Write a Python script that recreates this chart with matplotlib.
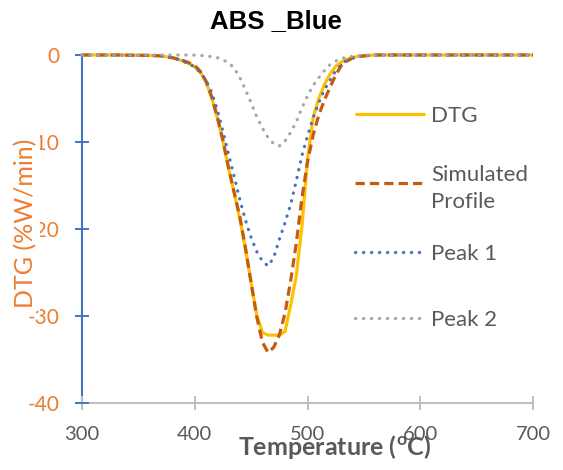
import matplotlib
matplotlib.use("Agg")
import matplotlib.pyplot as plt
from matplotlib.lines import Line2D

plt.rcParams["font.family"] = ["Lato", "DejaVu Sans"]
plt.rcParams["mathtext.fontset"] = "custom"
plt.rcParams["mathtext.rm"] = "Lato"
plt.rcParams["mathtext.bf"] = "Lato:bold"
plt.rcParams["mathtext.it"] = "Lato:italic"
plt.rcParams["axes.unicode_minus"] = False

# Temperature grid (degC) and the DTG curves (%W/min)
temperature = [300, 330, 360, 370, 375, 380, 385, 390, 395, 400, 405, 410, 415, 420,
               425, 430, 435, 440, 445, 450, 455, 460, 465, 470, 475, 480, 485, 490,
               495, 500, 505, 510, 515, 520, 525, 530, 535, 540, 545, 550, 555, 560,
               580, 620, 660, 700]

dtg = [0, 0, -0.05, -0.1, -0.2, -0.35, -0.5, -0.7, -1.0, -1.35, -2.0, -3.1, -4.9, -7.2,
       -9.9, -13.0, -15.9, -18.8, -22.3, -26.2, -29.9, -31.9, -32.2, -32.2, -32.2, -31.8, -28.8, -25.4,
       -19.8, -12.0, -7.2, -5.0, -3.4, -2.2, -1.3, -0.8, -0.5, -0.3, -0.15, -0.1, -0.05, 0,
       0, 0, 0, 0]

simulated = [0, 0, -0.05, -0.1, -0.2, -0.3, -0.45, -0.65, -0.9, -1.2, -1.9, -3.0, -4.8, -7.1,
             -9.8, -13.0, -15.8, -18.6, -22.2, -26.2, -30.1, -33.0, -34.2, -33.6, -32.2, -29.7, -26.0, -21.7,
             -16.5, -12.3, -9.2, -6.9, -5.2, -3.7, -2.3, -1.2, -0.7, -0.35, -0.2, -0.1, -0.05, 0,
             0, 0, 0, 0]

peak_1 = [0, 0, -0.05, -0.1, -0.2, -0.3, -0.5, -0.75, -1.0, -1.4, -2.0, -2.9, -4.3, -6.3,
          -8.8, -11.4, -14.0, -16.6, -19.0, -21.0, -22.6, -23.7, -24.25, -23.3, -21.2, -19.3, -17.2, -14.5,
          -11.6, -9.3, -7.2, -5.5, -4.0, -2.9, -1.8, -1.1, -0.6, -0.3, -0.15, -0.08, -0.03, 0,
          0, 0, 0, 0]

peak_2 = [0, 0, 0, 0, 0, 0, 0, 0, 0, -0.02, -0.05, -0.1, -0.2, -0.3,
          -0.55, -0.9, -1.5, -2.6, -4.0, -5.5, -7.1, -8.4, -9.5, -10.2, -10.45, -9.9, -8.9, -7.7,
          -6.1, -4.7, -3.5, -2.6, -1.8, -1.1, -0.7, -0.4, -0.25, -0.15, -0.08, -0.04, 0, 0,
          0, 0, 0, 0]

x_ticks = [300, 400, 500, 600, 700]
y_ticks = [0, -10, -20, -30, -40]

series_labels = ["DTG", "Simulated\nProfile", "Peak 1", "Peak 2"]
series_values = [dtg, simulated, peak_1, peak_2]
series_styles = [
    dict(color="#FFC000", lw=2.3, ls="-", solid_capstyle="butt"),
    dict(color="#C55A11", lw=2.3, ls=(0, (2.9, 1.6)), dash_capstyle="butt"),
    dict(color="#4472C4", lw=2.3, ls=(0, (0.1, 2.4)), dash_capstyle="round"),
    dict(color="#A5A5A5", lw=2.3, ls=(0, (0.1, 2.4)), dash_capstyle="round"),
]

W, H = 563, 470
fig = plt.figure(figsize=(W / 100, H / 100), dpi=100)
ax = fig.add_axes([82 / W, 1 - 403 / H, (533 - 82) / W, (403 - 55) / H])

for vals, style in zip(series_values, series_styles):
    ax.plot(temperature, vals, clip_on=False, **style)

ax.set_xlim(300, 700)
ax.set_ylim(-40, 0)
ax.set_xticks(x_ticks)
ax.set_yticks(y_ticks)
ax.set_yticklabels([str(v) for v in y_ticks])

for side in ("top", "right"):
    ax.spines[side].set_visible(False)
ax.spines["left"].set_color("#4472C4")
ax.spines["left"].set_linewidth(1.5)
ax.spines["bottom"].set_color("#BFBFBF")
ax.spines["bottom"].set_linewidth(1.5)
ax.spines["left"].set_zorder(0.5)
ax.spines["bottom"].set_zorder(0.4)

ax.tick_params(axis="y", direction="inout", length=10.5, width=1.4,
               color="#4472C4", labelcolor="#ED7D31", labelsize=15, pad=11)
ax.tick_params(axis="x", direction="inout", length=10.5, width=1.4,
               color="#BFBFBF", labelcolor="#595959", labelsize=14.5, pad=11.5)

# Title and axis titles
fig.text(276 / W, 1 - 28.5 / H, "ABS _Blue", ha="center", va="baseline",
         family="Liberation Sans", weight="bold", fontsize=18.5, color="black")
fig.text(335 / W, 1 - 455 / H, r"Temperature ($^{\mathbf{o}}$C)", ha="center",
         va="baseline", weight="bold", fontsize=18, color="#595959")
fig.text(26 / W, 1 - 223.5 / H, "DTG (%W/min)", rotation=90, ha="center",
         va="center", fontsize=18, color="#ED7D31",
         bbox=dict(facecolor="white", edgecolor="none", pad=2))

# Legend on the right side of the plot area
legend_rows = [114, 183, 252, 318]
for label, style, yrow in zip(series_labels, series_styles, legend_rows):
    yf = 1 - yrow / H
    fig.add_artist(Line2D([355 / W, 425 / W], [yf, yf], transform=fig.transFigure, **style))
    fig.text(431 / W, yf, label, ha="left", va="center_baseline", fontsize=16,
             color="#595959", linespacing=1.45)

fig.savefig("out.png", dpi=100)
